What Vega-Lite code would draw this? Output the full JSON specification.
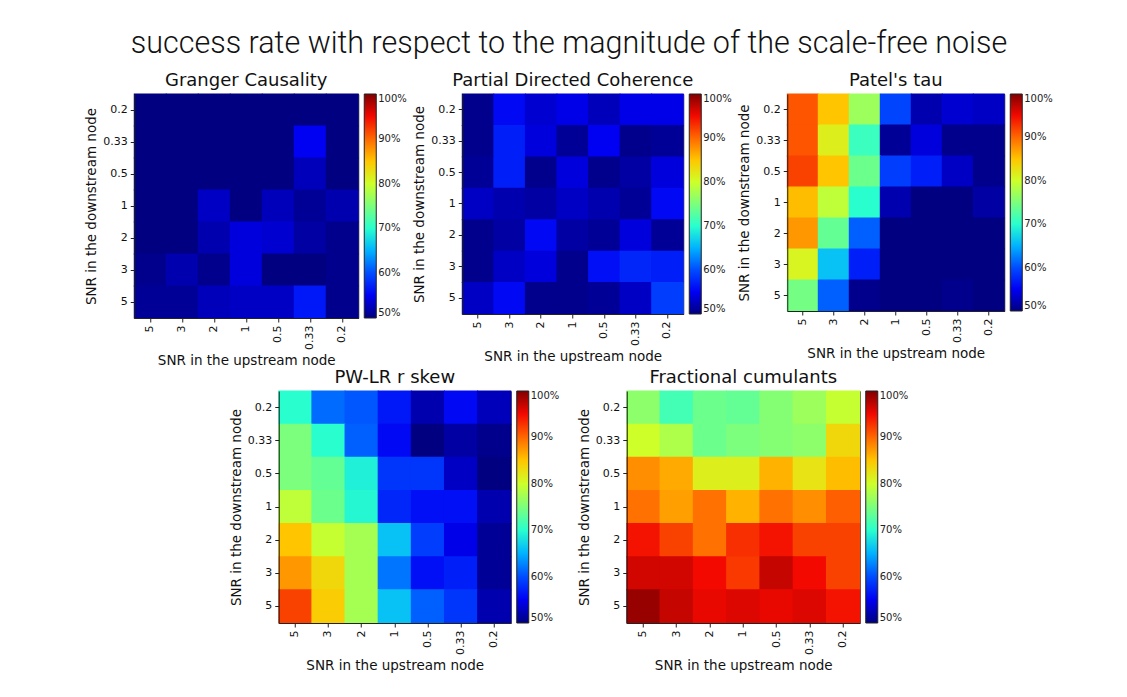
{
  "$schema": "https://vega.github.io/schema/vega-lite/v6.json",
  "background": "white",
  "padding": {"left": 84, "top": 28, "right": 10, "bottom": 10},
  "title": {"text": "success rate with respect to the magnitude of the scale-free noise", "fontSize": 30.5, "font": "Roboto", "fontWeight": 300, "color": "#111", "anchor": "middle", "offset": 12},
  "config": {
    "view": {"stroke": "#222", "strokeWidth": 1},
    "axis": {"labelFont": "DejaVu Sans", "labelFontSize": 11, "labelColor": "#111", "titleFont": "DejaVu Sans", "titleFontSize": 13.5, "titleFontWeight": "normal", "titleColor": "#111", "domainColor": "#222", "tickColor": "#222", "tickSize": 4, "grid": false, "labelPadding": 3},
    "legend": {"labelFont": "DejaVu Sans", "labelFontSize": 10, "labelColor": "#222", "gradientStrokeColor": "#222", "gradientStrokeWidth": 1, "gradientThickness": 12, "offset": 6},
    "title": {"font": "DejaVu Sans", "fontSize": 18, "fontWeight": "normal", "color": "#111", "offset": 4}
  },
  "datasets": {
    "cells": [
      {"m":"GC","d":"0.2","u":"5","v":50},{"m":"GC","d":"0.2","u":"3","v":50},{"m":"GC","d":"0.2","u":"2","v":50},{"m":"GC","d":"0.2","u":"1","v":50},{"m":"GC","d":"0.2","u":"0.5","v":50},{"m":"GC","d":"0.2","u":"0.33","v":50},{"m":"GC","d":"0.2","u":"0.2","v":50},
      {"m":"GC","d":"0.33","u":"5","v":50},{"m":"GC","d":"0.33","u":"3","v":50},{"m":"GC","d":"0.33","u":"2","v":50},{"m":"GC","d":"0.33","u":"1","v":50},{"m":"GC","d":"0.33","u":"0.5","v":50},{"m":"GC","d":"0.33","u":"0.33","v":55},{"m":"GC","d":"0.33","u":"0.2","v":50},
      {"m":"GC","d":"0.5","u":"5","v":50},{"m":"GC","d":"0.5","u":"3","v":50},{"m":"GC","d":"0.5","u":"2","v":50},{"m":"GC","d":"0.5","u":"1","v":50},{"m":"GC","d":"0.5","u":"0.5","v":50},{"m":"GC","d":"0.5","u":"0.33","v":52.5},{"m":"GC","d":"0.5","u":"0.2","v":50},
      {"m":"GC","d":"1","u":"5","v":50},{"m":"GC","d":"1","u":"3","v":50},{"m":"GC","d":"1","u":"2","v":53},{"m":"GC","d":"1","u":"1","v":50},{"m":"GC","d":"1","u":"0.5","v":52.5},{"m":"GC","d":"1","u":"0.33","v":51},{"m":"GC","d":"1","u":"0.2","v":52},
      {"m":"GC","d":"2","u":"5","v":50},{"m":"GC","d":"2","u":"3","v":50},{"m":"GC","d":"2","u":"2","v":52},{"m":"GC","d":"2","u":"1","v":54},{"m":"GC","d":"2","u":"0.5","v":53.5},{"m":"GC","d":"2","u":"0.33","v":51.5},{"m":"GC","d":"2","u":"0.2","v":50.5},
      {"m":"GC","d":"3","u":"5","v":50.5},{"m":"GC","d":"3","u":"3","v":52},{"m":"GC","d":"3","u":"2","v":50.5},{"m":"GC","d":"3","u":"1","v":54},{"m":"GC","d":"3","u":"0.5","v":50},{"m":"GC","d":"3","u":"0.33","v":50},{"m":"GC","d":"3","u":"0.2","v":50.5},
      {"m":"GC","d":"5","u":"5","v":51},{"m":"GC","d":"5","u":"3","v":51},{"m":"GC","d":"5","u":"2","v":52.5},{"m":"GC","d":"5","u":"1","v":53},{"m":"GC","d":"5","u":"0.5","v":53},{"m":"GC","d":"5","u":"0.33","v":56.5},{"m":"GC","d":"5","u":"0.2","v":50.5},

      {"m":"PDC","d":"0.2","u":"5","v":50.5},{"m":"PDC","d":"0.2","u":"3","v":55.5},{"m":"PDC","d":"0.2","u":"2","v":53.5},{"m":"PDC","d":"0.2","u":"1","v":54.5},{"m":"PDC","d":"0.2","u":"0.5","v":52.5},{"m":"PDC","d":"0.2","u":"0.33","v":54.5},{"m":"PDC","d":"0.2","u":"0.2","v":54.5},
      {"m":"PDC","d":"0.33","u":"5","v":50.5},{"m":"PDC","d":"0.33","u":"3","v":57},{"m":"PDC","d":"0.33","u":"2","v":54},{"m":"PDC","d":"0.33","u":"1","v":51},{"m":"PDC","d":"0.33","u":"0.5","v":55},{"m":"PDC","d":"0.33","u":"0.33","v":50.5},{"m":"PDC","d":"0.33","u":"0.2","v":51},
      {"m":"PDC","d":"0.5","u":"5","v":51},{"m":"PDC","d":"0.5","u":"3","v":57},{"m":"PDC","d":"0.5","u":"2","v":50.5},{"m":"PDC","d":"0.5","u":"1","v":54},{"m":"PDC","d":"0.5","u":"0.5","v":50.5},{"m":"PDC","d":"0.5","u":"0.33","v":51.5},{"m":"PDC","d":"0.5","u":"0.2","v":54},
      {"m":"PDC","d":"1","u":"5","v":53},{"m":"PDC","d":"1","u":"3","v":52},{"m":"PDC","d":"1","u":"2","v":51.5},{"m":"PDC","d":"1","u":"1","v":53},{"m":"PDC","d":"1","u":"0.5","v":52},{"m":"PDC","d":"1","u":"0.33","v":51},{"m":"PDC","d":"1","u":"0.2","v":55.5},
      {"m":"PDC","d":"2","u":"5","v":50.5},{"m":"PDC","d":"2","u":"3","v":51.5},{"m":"PDC","d":"2","u":"2","v":55.5},{"m":"PDC","d":"2","u":"1","v":51.5},{"m":"PDC","d":"2","u":"0.5","v":51},{"m":"PDC","d":"2","u":"0.33","v":54},{"m":"PDC","d":"2","u":"0.2","v":51},
      {"m":"PDC","d":"3","u":"5","v":50.5},{"m":"PDC","d":"3","u":"3","v":53},{"m":"PDC","d":"3","u":"2","v":54},{"m":"PDC","d":"3","u":"1","v":50.5},{"m":"PDC","d":"3","u":"0.5","v":56},{"m":"PDC","d":"3","u":"0.33","v":57.5},{"m":"PDC","d":"3","u":"0.2","v":57},
      {"m":"PDC","d":"5","u":"5","v":53},{"m":"PDC","d":"5","u":"3","v":55.5},{"m":"PDC","d":"5","u":"2","v":50.5},{"m":"PDC","d":"5","u":"1","v":50.5},{"m":"PDC","d":"5","u":"0.5","v":51},{"m":"PDC","d":"5","u":"0.33","v":53},{"m":"PDC","d":"5","u":"0.2","v":59},

      {"m":"PT","d":"0.2","u":"5","v":91},{"m":"PT","d":"0.2","u":"3","v":85},{"m":"PT","d":"0.2","u":"2","v":77},{"m":"PT","d":"0.2","u":"1","v":59.5},{"m":"PT","d":"0.2","u":"0.5","v":52},{"m":"PT","d":"0.2","u":"0.33","v":53.5},{"m":"PT","d":"0.2","u":"0.2","v":53},
      {"m":"PT","d":"0.33","u":"5","v":91},{"m":"PT","d":"0.33","u":"3","v":81.5},{"m":"PT","d":"0.33","u":"2","v":71},{"m":"PT","d":"0.33","u":"1","v":51},{"m":"PT","d":"0.33","u":"0.5","v":54},{"m":"PT","d":"0.33","u":"0.33","v":50.5},{"m":"PT","d":"0.33","u":"0.2","v":50.5},
      {"m":"PT","d":"0.5","u":"5","v":92},{"m":"PT","d":"0.5","u":"3","v":85},{"m":"PT","d":"0.5","u":"2","v":74},{"m":"PT","d":"0.5","u":"1","v":59},{"m":"PT","d":"0.5","u":"0.5","v":57},{"m":"PT","d":"0.5","u":"0.33","v":53},{"m":"PT","d":"0.5","u":"0.2","v":50.5},
      {"m":"PT","d":"1","u":"5","v":85.5},{"m":"PT","d":"1","u":"3","v":79},{"m":"PT","d":"1","u":"2","v":70},{"m":"PT","d":"1","u":"1","v":52},{"m":"PT","d":"1","u":"0.5","v":50},{"m":"PT","d":"1","u":"0.33","v":50},{"m":"PT","d":"1","u":"0.2","v":51.5},
      {"m":"PT","d":"2","u":"5","v":87.5},{"m":"PT","d":"2","u":"3","v":73.5},{"m":"PT","d":"2","u":"2","v":61},{"m":"PT","d":"2","u":"1","v":50},{"m":"PT","d":"2","u":"0.5","v":50},{"m":"PT","d":"2","u":"0.33","v":50},{"m":"PT","d":"2","u":"0.2","v":50},
      {"m":"PT","d":"3","u":"5","v":81},{"m":"PT","d":"3","u":"3","v":66},{"m":"PT","d":"3","u":"2","v":57},{"m":"PT","d":"3","u":"1","v":50},{"m":"PT","d":"3","u":"0.5","v":50},{"m":"PT","d":"3","u":"0.33","v":50},{"m":"PT","d":"3","u":"0.2","v":50},
      {"m":"PT","d":"5","u":"5","v":74.5},{"m":"PT","d":"5","u":"3","v":61},{"m":"PT","d":"5","u":"2","v":50.5},{"m":"PT","d":"5","u":"1","v":50},{"m":"PT","d":"5","u":"0.5","v":50},{"m":"PT","d":"5","u":"0.33","v":50.5},{"m":"PT","d":"5","u":"0.2","v":50},

      {"m":"PW","d":"0.2","u":"5","v":70},{"m":"PW","d":"0.2","u":"3","v":61.5},{"m":"PW","d":"0.2","u":"2","v":60.5},{"m":"PW","d":"0.2","u":"1","v":56.5},{"m":"PW","d":"0.2","u":"0.5","v":52},{"m":"PW","d":"0.2","u":"0.33","v":55.5},{"m":"PW","d":"0.2","u":"0.2","v":52.5},
      {"m":"PW","d":"0.33","u":"5","v":75},{"m":"PW","d":"0.33","u":"3","v":70},{"m":"PW","d":"0.33","u":"2","v":61},{"m":"PW","d":"0.33","u":"1","v":55.5},{"m":"PW","d":"0.33","u":"0.5","v":50},{"m":"PW","d":"0.33","u":"0.33","v":51.5},{"m":"PW","d":"0.33","u":"0.2","v":50.5},
      {"m":"PW","d":"0.5","u":"5","v":75},{"m":"PW","d":"0.5","u":"3","v":73.5},{"m":"PW","d":"0.5","u":"2","v":69},{"m":"PW","d":"0.5","u":"1","v":58.5},{"m":"PW","d":"0.5","u":"0.5","v":58.5},{"m":"PW","d":"0.5","u":"0.33","v":53},{"m":"PW","d":"0.5","u":"0.2","v":50},
      {"m":"PW","d":"1","u":"5","v":79},{"m":"PW","d":"1","u":"3","v":74},{"m":"PW","d":"1","u":"2","v":69.5},{"m":"PW","d":"1","u":"1","v":57.5},{"m":"PW","d":"1","u":"0.5","v":56},{"m":"PW","d":"1","u":"0.33","v":56},{"m":"PW","d":"1","u":"0.2","v":52},
      {"m":"PW","d":"2","u":"5","v":85},{"m":"PW","d":"2","u":"3","v":79.5},{"m":"PW","d":"2","u":"2","v":77.5},{"m":"PW","d":"2","u":"1","v":66},{"m":"PW","d":"2","u":"0.5","v":59},{"m":"PW","d":"2","u":"0.33","v":54.5},{"m":"PW","d":"2","u":"0.2","v":51},
      {"m":"PW","d":"3","u":"5","v":87.5},{"m":"PW","d":"3","u":"3","v":83.5},{"m":"PW","d":"3","u":"2","v":77.5},{"m":"PW","d":"3","u":"1","v":62},{"m":"PW","d":"3","u":"0.5","v":56},{"m":"PW","d":"3","u":"0.33","v":57},{"m":"PW","d":"3","u":"0.2","v":51},
      {"m":"PW","d":"5","u":"5","v":92},{"m":"PW","d":"5","u":"3","v":84.5},{"m":"PW","d":"5","u":"2","v":77.5},{"m":"PW","d":"5","u":"1","v":66},{"m":"PW","d":"5","u":"0.5","v":61},{"m":"PW","d":"5","u":"0.33","v":58.5},{"m":"PW","d":"5","u":"0.2","v":52},

      {"m":"FC","d":"0.2","u":"5","v":76},{"m":"FC","d":"0.2","u":"3","v":71.5},{"m":"FC","d":"0.2","u":"2","v":74},{"m":"FC","d":"0.2","u":"1","v":73.5},{"m":"FC","d":"0.2","u":"0.5","v":75.5},{"m":"FC","d":"0.2","u":"0.33","v":77},{"m":"FC","d":"0.2","u":"0.2","v":79.5},
      {"m":"FC","d":"0.33","u":"5","v":80},{"m":"FC","d":"0.33","u":"3","v":78},{"m":"FC","d":"0.33","u":"2","v":74},{"m":"FC","d":"0.33","u":"1","v":75},{"m":"FC","d":"0.33","u":"0.5","v":75.5},{"m":"FC","d":"0.33","u":"0.33","v":76},{"m":"FC","d":"0.33","u":"0.2","v":83.5},
      {"m":"FC","d":"0.5","u":"5","v":88},{"m":"FC","d":"0.5","u":"3","v":86.5},{"m":"FC","d":"0.5","u":"2","v":81.5},{"m":"FC","d":"0.5","u":"1","v":81.5},{"m":"FC","d":"0.5","u":"0.5","v":86},{"m":"FC","d":"0.5","u":"0.33","v":82.5},{"m":"FC","d":"0.5","u":"0.2","v":85.5},
      {"m":"FC","d":"1","u":"5","v":89.5},{"m":"FC","d":"1","u":"3","v":87},{"m":"FC","d":"1","u":"2","v":89.5},{"m":"FC","d":"1","u":"1","v":86},{"m":"FC","d":"1","u":"0.5","v":89.5},{"m":"FC","d":"1","u":"0.33","v":88},{"m":"FC","d":"1","u":"0.2","v":90.5},
      {"m":"FC","d":"2","u":"5","v":94.5},{"m":"FC","d":"2","u":"3","v":92},{"m":"FC","d":"2","u":"2","v":89.5},{"m":"FC","d":"2","u":"1","v":93},{"m":"FC","d":"2","u":"0.5","v":94.5},{"m":"FC","d":"2","u":"0.33","v":92},{"m":"FC","d":"2","u":"0.2","v":92},
      {"m":"FC","d":"3","u":"5","v":96.5},{"m":"FC","d":"3","u":"3","v":96.5},{"m":"FC","d":"3","u":"2","v":95},{"m":"FC","d":"3","u":"1","v":92.5},{"m":"FC","d":"3","u":"0.5","v":97},{"m":"FC","d":"3","u":"0.33","v":95},{"m":"FC","d":"3","u":"0.2","v":92},
      {"m":"FC","d":"5","u":"5","v":99},{"m":"FC","d":"5","u":"3","v":97},{"m":"FC","d":"5","u":"2","v":95.5},{"m":"FC","d":"5","u":"1","v":96},{"m":"FC","d":"5","u":"0.5","v":95.5},{"m":"FC","d":"5","u":"0.33","v":96},{"m":"FC","d":"5","u":"0.2","v":94.5}
    ]
  },
  "vconcat": [
    {
      "hconcat": [
        {
          "title": "Granger Causality",
          "width": 224, "height": 224,
          "data": {"name": "cells"},
          "transform": [{"filter": "datum.m === 'GC'"}],
          "mark": {"type": "rect", "width": {"band": 1.03}, "height": {"band": 1.03}},
          "encoding": {
            "x": {"field": "u", "type": "nominal", "sort": ["5","3","2","1","0.5","0.33","0.2"], "title": "SNR in the upstream node", "axis": {"labelAngle": -90}},
            "y": {"field": "d", "type": "nominal", "sort": ["0.2","0.33","0.5","1","2","3","5"], "title": "SNR in the downstream node"},
            "color": {"field": "v", "type": "quantitative", "scale": {"interpolate": "rgb", "domain": [50,55,60,65,70,75,80,85,90,95,100], "range": ["#000080","#0000f3","#004cff","#00b2ff","#29ffce","#7cff7c","#ceff29","#ffc600","#ff6800","#f30900","#800000"]}, "legend": {"title": null, "values": [50,60,70,80,90,100], "labelExpr": "datum.label + '%'", "gradientLength": 224}}
          }
        },
        {
          "title": "Partial Directed Coherence",
          "width": 221, "height": 220,
          "data": {"name": "cells"},
          "transform": [{"filter": "datum.m === 'PDC'"}],
          "mark": {"type": "rect", "width": {"band": 1.03}, "height": {"band": 1.03}},
          "encoding": {
            "x": {"field": "u", "type": "nominal", "sort": ["5","3","2","1","0.5","0.33","0.2"], "title": "SNR in the upstream node", "axis": {"labelAngle": -90}},
            "y": {"field": "d", "type": "nominal", "sort": ["0.2","0.33","0.5","1","2","3","5"], "title": "SNR in the downstream node"},
            "color": {"field": "v", "type": "quantitative", "scale": {"interpolate": "rgb", "domain": [50,55,60,65,70,75,80,85,90,95,100], "range": ["#000080","#0000f3","#004cff","#00b2ff","#29ffce","#7cff7c","#ceff29","#ffc600","#ff6800","#f30900","#800000"]}, "legend": {"title": null, "values": [50,60,70,80,90,100], "labelExpr": "datum.label + '%'", "gradientLength": 220}}
          }
        },
        {
          "title": "Patel's tau",
          "width": 217, "height": 217,
          "data": {"name": "cells"},
          "transform": [{"filter": "datum.m === 'PT'"}],
          "mark": {"type": "rect", "width": {"band": 1.03}, "height": {"band": 1.03}},
          "encoding": {
            "x": {"field": "u", "type": "nominal", "sort": ["5","3","2","1","0.5","0.33","0.2"], "title": "SNR in the upstream node", "axis": {"labelAngle": -90}},
            "y": {"field": "d", "type": "nominal", "sort": ["0.2","0.33","0.5","1","2","3","5"], "title": "SNR in the downstream node"},
            "color": {"field": "v", "type": "quantitative", "scale": {"interpolate": "rgb", "domain": [50,55,60,65,70,75,80,85,90,95,100], "range": ["#000080","#0000f3","#004cff","#00b2ff","#29ffce","#7cff7c","#ceff29","#ffc600","#ff6800","#f30900","#800000"]}, "legend": {"title": null, "values": [50,60,70,80,90,100], "labelExpr": "datum.label + '%'", "gradientLength": 217}}
          }
        }
      ],
      "spacing": 4,
      "resolve": {"scale": {"color": "independent"}, "legend": {"color": "independent"}}
    },
    {
      "hconcat": [
        {
          "title": "PW-LR r skew",
          "width": 232, "height": 232,
          "data": {"name": "cells"},
          "transform": [{"filter": "datum.m === 'PW'"}],
          "mark": {"type": "rect", "width": {"band": 1.03}, "height": {"band": 1.03}},
          "encoding": {
            "x": {"field": "u", "type": "nominal", "sort": ["5","3","2","1","0.5","0.33","0.2"], "title": "SNR in the upstream node", "axis": {"labelAngle": -90}},
            "y": {"field": "d", "type": "nominal", "sort": ["0.2","0.33","0.5","1","2","3","5"], "title": "SNR in the downstream node"},
            "color": {"field": "v", "type": "quantitative", "scale": {"interpolate": "rgb", "domain": [50,55,60,65,70,75,80,85,90,95,100], "range": ["#000080","#0000f3","#004cff","#00b2ff","#29ffce","#7cff7c","#ceff29","#ffc600","#ff6800","#f30900","#800000"]}, "legend": {"title": null, "values": [50,60,70,80,90,100], "labelExpr": "datum.label + '%'", "gradientLength": 232}}
          }
        },
        {
          "title": "Fractional cumulants",
          "width": 233, "height": 232,
          "data": {"name": "cells"},
          "transform": [{"filter": "datum.m === 'FC'"}],
          "mark": {"type": "rect", "width": {"band": 1.03}, "height": {"band": 1.03}},
          "encoding": {
            "x": {"field": "u", "type": "nominal", "sort": ["5","3","2","1","0.5","0.33","0.2"], "title": "SNR in the upstream node", "axis": {"labelAngle": -90}},
            "y": {"field": "d", "type": "nominal", "sort": ["0.2","0.33","0.5","1","2","3","5"], "title": "SNR in the downstream node"},
            "color": {"field": "v", "type": "quantitative", "scale": {"interpolate": "rgb", "domain": [50,55,60,65,70,75,80,85,90,95,100], "range": ["#000080","#0000f3","#004cff","#00b2ff","#29ffce","#7cff7c","#ceff29","#ffc600","#ff6800","#f30900","#800000"]}, "legend": {"title": null, "values": [50,60,70,80,90,100], "labelExpr": "datum.label + '%'", "gradientLength": 232}}
          }
        }
      ],
      "spacing": 16,
      "resolve": {"scale": {"color": "independent"}, "legend": {"color": "independent"}}
    }
  ],
  "spacing": 0,
  "center": true,
  "resolve": {"scale": {"color": "independent"}, "legend": {"color": "independent"}}
}
